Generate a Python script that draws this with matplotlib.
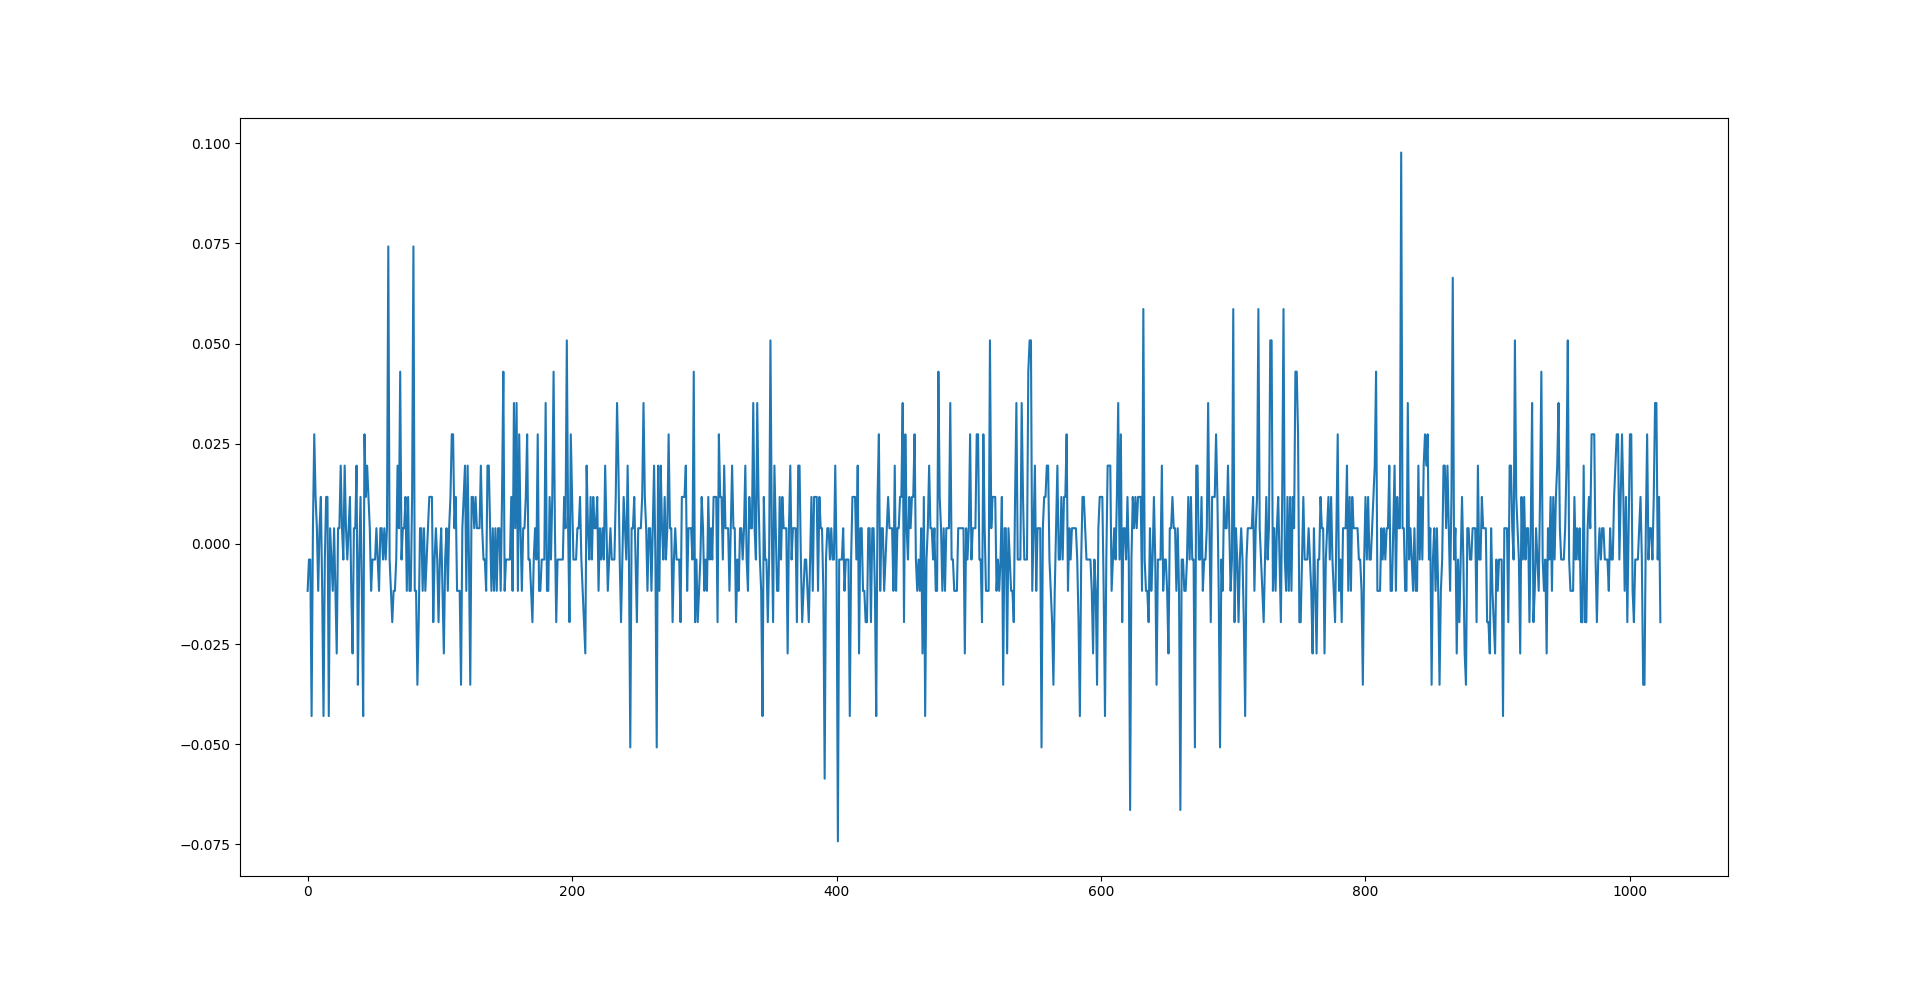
import matplotlib
matplotlib.use("Agg")
import matplotlib.pyplot as plt

# sample values, in steps of 1/256
levels = [
    # 0 - 88
    -3, -1, -1, -11, 1, 7, 3, 1, -3, 1, 3, -3, -11, -1, 3, 3, -11, 1, -1, -3,
    1, -3, -7, 1, 1, 5, 1, -1, 5, 1, -1, 1, 3, -3, -7, 1, 1, 5, -9, -1,
    3, -3, -11, 7, 3, 5, 3, 1, -3, -1, -1, -1, 1, -1, -3, 1, 1, -1, 1, -1,
    1, 19, -1, -3, -5, -3, -3, -1, 5, 1, 11, -1, 1, 1, 3, -3, 3, -3, -3, 3,
    19, -3, -3, -9, -5, 1, 1, -3, 1,
    # 89 - 183
    -3, -1, 1, 3, 3, 3, -5, -1, 1, -1, -5, -1, 1, -3, -7, -1, 1, -3, 1, 3,
    7, 7, 1, 3, -3, -3, -3, -9, 1, 3, 5, -3, 5, -1, -9, 3, 3, 1, 3, 1,
    1, 1, 5, 1, -1, -1, -3, 5, 5, 1, -3, 1, -3, 1, -3, 1, 1, -3, 3, 11,
    -3, -1, -1, -1, -1, 3, -3, 9, 1, 9, -3, 7, 1, -3, 1, 1, 3, 7, -1, -1,
    -3, -5, -1, 1, -1, 7, -3, -3, -1, -1, -1, 9, -3, -3, 3,
    # 184 - 277
    -1, 3, 11, 1, -5, -1, -1, -1, -1, -1, 3, 1, 13, 1, -5, 7, 3, -1, -1, -1,
    1, 1, 3, -1, -3, -5, -7, 5, 1, -1, 3, -1, 3, 1, 1, 3, -3, 1, -1, 1,
    -1, 5, 1, -3, -1, 1, -1, -1, -1, 3, 9, 5, -1, -5, -1, 3, 1, -1, 5, -1,
    -13, 1, 1, 3, -1, -5, 1, 1, 1, 3, 9, 3, 1, -3, 1, 1, -3, 1, 5, -1,
    -13, 5, -3, 5, 1, -1, 3, -1, 1, 7, 1, 1, -5, -1,
    # 278 - 371
    1, -1, -1, -1, -5, 3, 3, 3, 5, -3, 1, 1, 1, -1, 11, -5, -1, -5, -3, -1,
    3, 1, -3, -1, -3, 3, -1, 1, -1, 3, 3, 3, -5, 7, 3, 3, -1, 5, 1, 1,
    1, -3, 1, 5, 1, 1, -5, -1, -3, 1, 1, -1, 1, 5, -1, -3, 3, 1, 1, 9,
    1, -1, 9, 3, -1, -3, -11, 3, -1, -1, -5, -1, 13, 1, -5, 5, 1, -3, -3, 3,
    -1, 3, 1, 1, 1, -7, 1, 5, -1, 1, 1, 1, -5, 5,
    # 372 - 466
    5, -1, -5, -3, -1, -1, -3, -5, -1, 3, -3, 3, 3, 3, -3, 3, 1, 1, -3, -15,
    -1, 1, 1, -1, 1, -1, -1, 5, -1, -19, -1, -1, -1, 1, -3, -1, -1, -1, -11, -1,
    3, 3, 3, -1, 5, -7, 1, 1, -3, -3, -5, -5, 1, 1, -5, 1, 1, -3, -11, 3,
    7, -3, 1, 1, -3, -1, 1, 3, 1, 1, 1, -3, 5, -3, 1, 1, 3, 3, 9, -5,
    7, 1, -1, 3, 1, 3, 3, 7, -1, -3, -1, -3, 1, -7, 3,
    # 467 - 561
    -11, -1, 1, 5, 1, 1, -1, 1, -3, -3, 11, 3, 1, -3, 1, -3, 1, 1, 1, 9,
    -1, -1, -3, -3, -3, 1, 1, 1, 1, 1, -7, 1, -1, 1, 7, -1, 1, 1, 1, 7,
    7, -1, -1, -5, 7, 1, -3, -3, -3, 13, 1, 3, 3, 3, -3, -1, -3, -1, 3, -9,
    1, 1, -7, 1, -1, -3, -3, -5, 3, 9, -1, -1, -1, 9, 3, -1, -1, -1, 11, 13,
    13, -3, 1, 5, -3, 1, 1, 1, -13, 1, 3, 3, 5, 5, -1,
    # 562 - 655
    -3, -5, -9, -3, 1, 5, -1, -1, 3, -1, 3, 3, 7, -3, 1, -1, 1, 1, 1, 1,
    -1, -5, -11, -1, 3, 3, 1, -1, -1, -1, -1, -3, -7, -1, -3, -9, 1, 3, 3, 3,
    -3, -11, -1, 5, 5, 5, -3, -1, 1, -1, 3, 9, -1, 7, -5, 1, 1, -1, 3, -1,
    -17, -1, 3, 1, 3, 1, 3, 3, 3, -3, 15, -1, -3, -3, -5, 1, -3, -1, 3, -1,
    -9, -1, -1, -1, 5, -3, -1, -1, -3, -7, 1, 1, 3, 1,
    # 656 - 750
    1, -3, 1, -3, -17, -1, -1, -3, -3, -1, 3, -1, 3, -1, -1, -13, 5, 5, -1, -1,
    3, -3, -1, -1, 1, 9, 1, -5, 3, 3, 3, 7, 3, -3, -13, -1, -3, 3, 1, 1,
    5, 1, -3, -1, 15, -5, 1, -1, -5, -1, 1, -1, -5, -11, -1, 1, 1, 1, 1, 3,
    -3, 1, 3, 15, 1, -1, -3, -5, -1, 3, -1, 1, 13, 13, -3, 1, -3, 1, 3, -1,
    -5, 3, 15, -1, -3, 3, -3, 3, -3, 3, 1, 11, 11, 7, -5,
    # 751 - 844
    -5, -1, 3, -1, -1, -1, 1, -1, -3, -7, 1, -3, -7, -1, -1, 3, 1, 1, -7, -1,
    1, 3, -1, 3, -1, -3, -5, 1, 7, -3, -1, -5, 1, 1, 1, 5, -3, 3, -3, 3,
    1, 1, 1, 1, -1, -1, -3, -9, -1, 3, -1, 3, -1, -1, 1, 3, 5, 11, -3, -3,
    -3, 1, -1, 1, -1, 1, 1, 5, -3, -3, 1, 5, -3, 3, 1, 1, 25, 1, 1, -3,
    -3, 9, -1, 1, -1, -3, 1, -3, -3, 5, -1, 3, -1, 5,
    # 845 - 938
    7, 5, 7, -1, 1, -9, -1, 1, -3, 1, -3, -9, -3, -1, 5, 5, 1, 5, 1, -3,
    3, 17, -1, 1, -7, -1, -5, -1, 3, -1, -7, -9, 1, 1, -1, -1, 1, 1, 1, -5,
    5, -1, -1, 3, 1, 1, 1, -5, -5, -7, 1, -3, -5, -7, -1, -3, -1, -1, -1, -11,
    1, 1, 1, -5, 5, 5, 1, -1, 13, 3, 1, -1, -7, 3, -1, 3, -1, 1, 1, -5,
    1, 9, -5, -3, 1, -1, -3, 3, 11, -1, -3, -1, -7, 1,
    # 939 - 1023
    -1, 3, -3, 3, -1, 3, 5, 9, 1, -1, -1, -1, 1, 5, 13, -1, -3, -3, -3, 3,
    -1, 1, -1, 1, -5, -5, 5, -5, -5, 1, 3, 1, 7, 7, 7, -1, -5, -1, 1, -1,
    1, 1, -1, -1, -1, -3, 1, -1, -1, 3, 5, 7, 7, -1, 3, 7, 3, -3, 3, -5,
    1, 7, 7, -3, -5, -1, -1, -1, 1, 3, -1, -9, -9, 1, 7, -1, 1, 1, -1, 3,
    9, 9, -1, 3, -5,
]
step = 1 / 256

signal = [k * step for k in levels]

fig = plt.figure(figsize=(19.2, 9.84))
plt.plot(signal)
plt.savefig("out.png", dpi=100)
